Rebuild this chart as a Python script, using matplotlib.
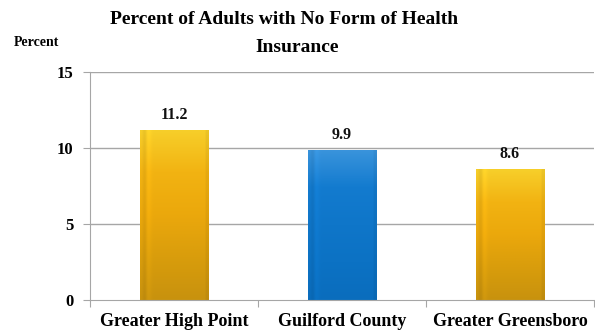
import numpy as np
import matplotlib
matplotlib.use("Agg")
import matplotlib.pyplot as plt
from matplotlib.colors import LinearSegmentedColormap

categories = ["Greater High Point", "Guilford County", "Greater Greensboro"]
values = [11.2, 9.9, 8.6]
bar_kinds = ["gold", "blue", "gold"]
yticks = [0, 5, 10, 15]

FONT = ["Liberation Serif", "DejaVu Serif"]
plt.rcParams['font.family'] = FONT
plt.rcParams['font.weight'] = 'bold'

W, H = 595, 335
fig = plt.figure(figsize=(W / 100, H / 100), dpi=100)
ax = fig.add_axes([90 / W, (H - 300) / H, (594 - 90) / W, (300 - 72) / H])

x = np.arange(len(categories))
bw = 0.41
ax.set_xlim(-0.5, len(categories) - 0.5)
ax.set_ylim(0, 15)

for yv in yticks[1:]:
    ax.axhline(yv, color="#a6a6a6", lw=1.0, zorder=0)

palettes = {
    "gold": ["#f7cf2a", "#f2b312", "#eba80c", "#d99d0c", "#c8920e"],
    "blue": ["#3a94dc", "#137bcf", "#0f76c9", "#0c72c4", "#0a6dbd"],
}
for xi, v, kind in zip(x, values, bar_kinds):
    bars = ax.bar(xi, v, width=bw, color="none", edgecolor="none", zorder=2)
    patch = bars[0]
    cmap = LinearSegmentedColormap.from_list(kind, palettes[kind][::-1])
    grad_v = np.linspace(0, 1, 200)[:, None]
    hx = np.linspace(0, 1, 60)[None, :]
    shade = 1.0 - 0.06 * np.exp(-((hx - 0.06) / 0.03) ** 2) + 0.04 * np.exp(-((hx - 0.12) / 0.04) ** 2) - 0.05 * (hx > 0.95)
    img = cmap(grad_v * np.ones_like(hx))
    img[..., :3] = np.clip(img[..., :3] * shade[..., None], 0, 1)
    im = ax.imshow(img, extent=[xi - bw / 2, xi + bw / 2, 0, v], origin="lower",
                   aspect="auto", zorder=2, interpolation="bilinear")
    im.set_clip_path(patch)
    ax.annotate(f"{v:.1f}", (xi, v), xytext=(0, 5), textcoords="offset points",
                ha="center", va="bottom", fontsize=11.5, fontweight="bold", color="#111111")

for s in ["top", "right"]:
    ax.spines[s].set_visible(False)
ax.spines["left"].set_color("#a6a6a6")
ax.spines["bottom"].set_color("#a6a6a6")

ax.set_yticks(yticks)
ax.set_yticklabels([str(t) for t in yticks], fontsize=12, fontweight="bold")
ax.tick_params(axis="y", length=5, color="#a6a6a6", pad=7)

ax.set_xticks(np.arange(len(categories) + 1) - 0.5, minor=False)
ax.set_xticklabels([""] * (len(categories) + 1))
ax.tick_params(axis="x", length=5, color="#a6a6a6")
ax.set_xticks(x, minor=True)
ax.set_xticklabels(categories, minor=True, fontsize=13, fontweight="bold")
ax.tick_params(axis="x", which="minor", length=0, pad=9)

fig.text(284 / W, 1 - 20 / H, "Percent of Adults with No Form of Health", ha="center", va="center",
         fontsize=14, fontweight="bold")
fig.text(297 / W, 1 - 47 / H, "Insurance", ha="center", va="center",
         fontsize=14, fontweight="bold")
fig.text(36 / W, 1 - 42 / H, "Percent", ha="center", va="center", fontsize=10, fontweight="bold")

fig.savefig("out.png", dpi=100)
